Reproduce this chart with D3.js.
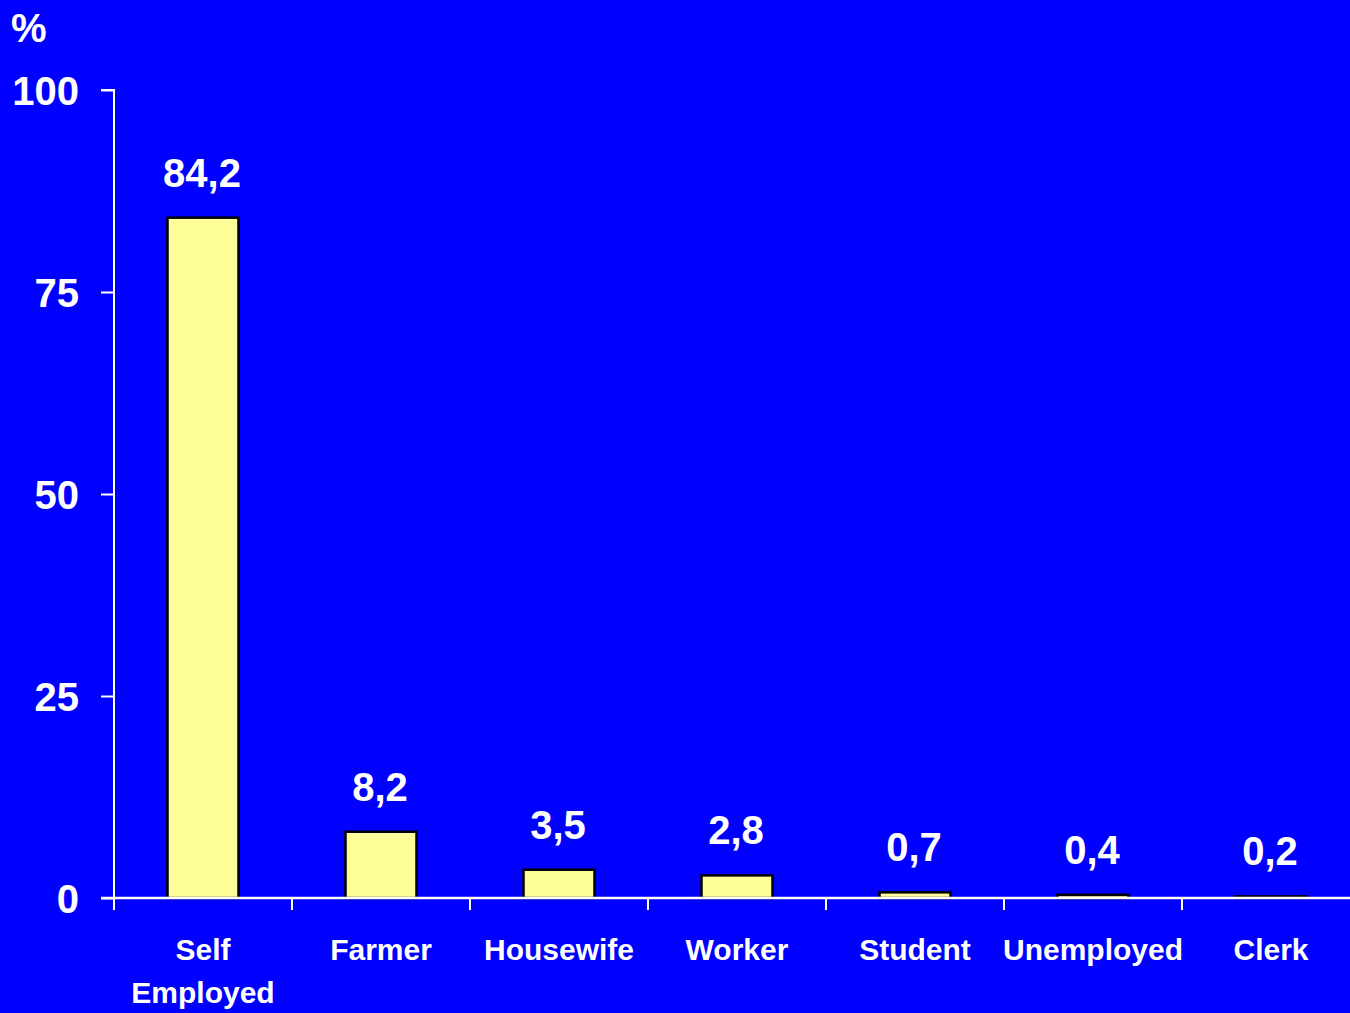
<!DOCTYPE html>
<html><head><meta charset="utf-8">
<script src="https://cdn.jsdelivr.net/npm/d3@7"></script>
<style>html,body{margin:0;padding:0;background:#0000FF;overflow:hidden}</style>
</head><body>
<script>
const categories = [["Self","Employed"],["Farmer"],["Housewife"],["Worker"],["Student"],["Unemployed"],["Clerk"]];
const values = [84.2, 8.2, 3.5, 2.8, 0.7, 0.4, 0.2];
const valueLabels = ["84,2","8,2","3,5","2,8","0,7","0,4","0,2"];
const yTicks = [0, 25, 50, 75, 100];

const W = 1350, H = 1013;
const svg = d3.select("body").append("svg").attr("width", W).attr("height", H)
  .style("font-family", "'Liberation Sans', Arial, sans-serif").style("font-weight", "bold");
svg.append("rect").attr("width", W).attr("height", H).attr("fill", "#0000FF");

const x0 = 114, step = 178;
const x = d3.scaleBand().domain(d3.range(categories.length)).range([x0, x0 + step * categories.length]).padding(0);
const y = d3.scaleLinear().domain([0, 100]).range([898, 90]);

// y axis
const yAxis = svg.append("g").attr("transform", `translate(${x0},0)`)
  .call(d3.axisLeft(y).tickValues(yTicks).tickSize(13).tickPadding(22).tickFormat(d3.format("d")));
yAxis.select(".domain").attr("stroke", "#fff").attr("stroke-width", 2).attr("d", `M-13,${y(100)}H0V${y(0)}`);
yAxis.selectAll(".tick line").attr("stroke", "#fff").attr("stroke-width", 2);
yAxis.selectAll(".tick text").attr("fill", "#fff").style("font-size", "40px").style("font-weight", "bold")
  .style("font-family", "'Liberation Sans', Arial, sans-serif").attr("dy", "0.36em");

// bars
const bw = 71;
svg.append("g").selectAll("rect").data(values).join("rect")
  .attr("x", (d, i) => x(i) + x.bandwidth() / 2 - bw / 2)
  .attr("y", d => y(d))
  .attr("width", bw)
  .attr("height", d => y(0) - y(d))
  .attr("fill", "#FFFF99").attr("stroke", "#000").attr("stroke-width", 2.5);

// x axis
const xAxis = svg.append("g").attr("transform", `translate(0,${y(0)})`);
xAxis.append("line").attr("x1", x0 - 13).attr("x2", W).attr("stroke", "#fff").attr("stroke-width", 2.5);
xAxis.selectAll(".xt").data(d3.range(categories.length + 1)).join("line")
  .attr("x1", i => x0 + step * i).attr("x2", i => x0 + step * i)
  .attr("y1", 0).attr("y2", 12).attr("stroke", "#fff").attr("stroke-width", 2);

// category labels
const cl = svg.append("g").selectAll("text").data(categories).join("text")
  .attr("x", (d, i) => x(i) + x.bandwidth() / 2)
  .attr("y", 960)
  .attr("text-anchor", "middle").attr("fill", "#fff").style("font-size", "30px");
cl.selectAll("tspan").data(d => d).join("tspan")
  .attr("x", function() { return d3.select(this.parentNode).attr("x"); })
  .attr("dy", (d, j) => j === 0 ? 0 : 43).text(d => d);

// value labels
svg.append("g").selectAll("text").data(values).join("text")
  .attr("x", (d, i) => x(i) + x.bandwidth() / 2 - 1)
  .attr("y", d => y(d) - 31)
  .attr("text-anchor", "middle").attr("fill", "#fff").style("font-size", "40px")
  .text((d, i) => valueLabels[i]);

// % unit
svg.append("text").attr("x", 11).attr("y", 42).attr("fill", "#fff").style("font-size", "40px").text("%");
</script>
</body></html>
